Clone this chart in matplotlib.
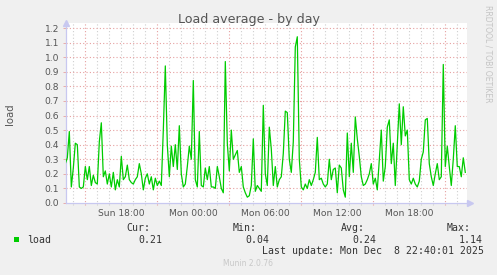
import numpy as np
import matplotlib.pyplot as plt
from matplotlib.patches import Rectangle

# load average, 10 minute samples starting Sun 13:20
load = [0.27, 0.31, 0.49, 0.11, 0.24, 0.41, 0.40, 0.11, 0.10, 0.11,
        0.25, 0.16, 0.25, 0.12, 0.19, 0.14, 0.13, 0.42, 0.55, 0.18,
        0.22, 0.13, 0.20, 0.11, 0.21, 0.09, 0.16, 0.11, 0.32, 0.16,
        0.18, 0.26, 0.16, 0.14, 0.13, 0.16, 0.18, 0.27, 0.20, 0.09,
        0.17, 0.20, 0.13, 0.18, 0.09, 0.17, 0.12, 0.15, 0.12, 0.50,
        0.94, 0.40, 0.18, 0.39, 0.25, 0.40, 0.23, 0.53, 0.20, 0.11,
        0.13, 0.25, 0.39, 0.30, 0.84, 0.16, 0.11, 0.49, 0.12, 0.11,
        0.24, 0.16, 0.25, 0.11, 0.11, 0.10, 0.25, 0.18, 0.10, 0.07,
        0.97, 0.41, 0.22, 0.50, 0.30, 0.33, 0.36, 0.21, 0.25, 0.11,
        0.07, 0.04, 0.05, 0.12, 0.44, 0.08, 0.12, 0.10, 0.08, 0.67,
        0.20, 0.12, 0.52, 0.37, 0.12, 0.25, 0.11, 0.16, 0.18, 0.34,
        0.63, 0.62, 0.30, 0.21, 0.42, 1.07, 1.14, 0.30, 0.11, 0.09,
        0.13, 0.10, 0.16, 0.12, 0.16, 0.21, 0.45, 0.16, 0.17, 0.13,
        0.11, 0.13, 0.30, 0.16, 0.23, 0.24, 0.07, 0.26, 0.24, 0.09,
        0.04, 0.48, 0.18, 0.41, 0.21, 0.59, 0.44, 0.32, 0.18, 0.12,
        0.13, 0.16, 0.20, 0.27, 0.13, 0.17, 0.09, 0.30, 0.50, 0.15,
        0.25, 0.52, 0.57, 0.27, 0.41, 0.12, 0.40, 0.68, 0.40, 0.66,
        0.46, 0.50, 0.16, 0.13, 0.17, 0.13, 0.11, 0.15, 0.30, 0.35,
        0.57, 0.58, 0.27, 0.18, 0.12, 0.20, 0.27, 0.16, 0.18, 0.95,
        0.25, 0.39, 0.25, 0.12, 0.30, 0.53, 0.25, 0.25, 0.18, 0.31,
        0.21]
start_hour = 13 + 20 / 60
step_hours = 10 / 60

tick_hours = [18, 24, 30, 36, 42]
tick_labels = ["Sun 18:00", "Mon 00:00", "Mon 06:00", "Mon 12:00", "Mon 18:00"]
y_ticks = np.round(np.arange(0, 1.21, 0.1), 1)

stats_names = ["Cur:", "Min:", "Avg:", "Max:"]
stats_values = ["0.21", "0.04", "0.24", "1.14"]

W, H = 497, 275
bg = "#f0f0f0"
green = "#00cc00"
red_grid = "#e6a0a0"
grey_grid = "#cfcfcf"
axis_col = "#c8c8f0"
txt = "#555555"


def px(x, y):
    return x / W, 1 - y / H


fig = plt.figure(figsize=(W / 100, H / 100), dpi=100, facecolor=bg)
ax = fig.add_axes([66 / W, 1 - 203 / H, (467 - 66) / W, (203 - 23) / H])
ax.set_facecolor("white")

hours = start_hour + np.arange(len(load)) * step_hours
x0, x1 = 13.39, 46.81
ax.set_xlim(x0, x1)
ax.set_ylim(0, 1.2 + 5 / 145.8)

# grid
for h in range(14, 47):
    col = red_grid if h % 6 == 3 else grey_grid
    ax.axvline(h, ymin=-0.012, color=col, lw=0.8, ls=(0, (1, 2)), clip_on=False, zorder=1)
for v in y_ticks[1:]:
    ax.axhline(v, color=red_grid, lw=0.8, ls=(0, (1, 2)), zorder=1)

ax.plot(hours, load, color=green, lw=0.9, zorder=3)

for s in ["top", "right"]:
    ax.spines[s].set_visible(False)
for s in ["left", "bottom"]:
    ax.spines[s].set_color(axis_col)
    ax.spines[s].set_linewidth(0.9)
# axis arrows
ax.plot([1.0075], [0], marker=">", ms=4, color=axis_col, transform=ax.transAxes, clip_on=False)
ax.plot([0], [1.0], marker="^", ms=4, color=axis_col, transform=ax.transAxes, clip_on=False)

ax.set_xticks(tick_hours, tick_labels)
ax.set_yticks(y_ticks, [f"{v:.1f}" for v in y_ticks])
ax.tick_params(axis="x", length=0, pad=4, labelsize=6.6, labelcolor=txt)
ax.tick_params(axis="y", length=2, width=0.6, color=red_grid, pad=3, labelsize=6.6, labelcolor=txt)

fig.text(*px(248.5, 20), "Load average - by day", ha="center", va="center", fontsize=9.1, color=txt)
fig.text(*px(10, 114), "load", ha="center", va="center", rotation=90, fontsize=7.3, color=txt)
fig.text(*px(488, 54), "RRDTOOL / TOBI OETIKER", ha="center", va="center", rotation=270,
         fontsize=5.5, color="#c4c4c4")

# legend
fig.patches.append(Rectangle(px(14, 242.3), 5.3 / W, 5.6 / H, transform=fig.transFigure,
                             facecolor=green, edgecolor="none"))
mono = dict(family="DejaVu Sans Mono", fontsize=7.1, color="#333333", va="center")
fig.text(*px(26.7, 240), "load", **mono)
name_x = [126.5, 233, 340.7, 446.7]
value_x = [138.7, 245, 352, 459]
for nm, val, nx, vx in zip(stats_names, stats_values, name_x, value_x):
    fig.text(*px(nx, 228), nm, **mono)
    fig.text(*px(vx, 240), val, **mono)
fig.text(*px(261.7, 251.5), "Last update: Mon Dec  8 22:40:01 2025", **mono)
fig.text(*px(248, 264), "Munin 2.0.76", ha="center", va="center", fontsize=5.5, color="#c8c8c8")

fig.savefig("out.png", dpi=100, facecolor=bg)
